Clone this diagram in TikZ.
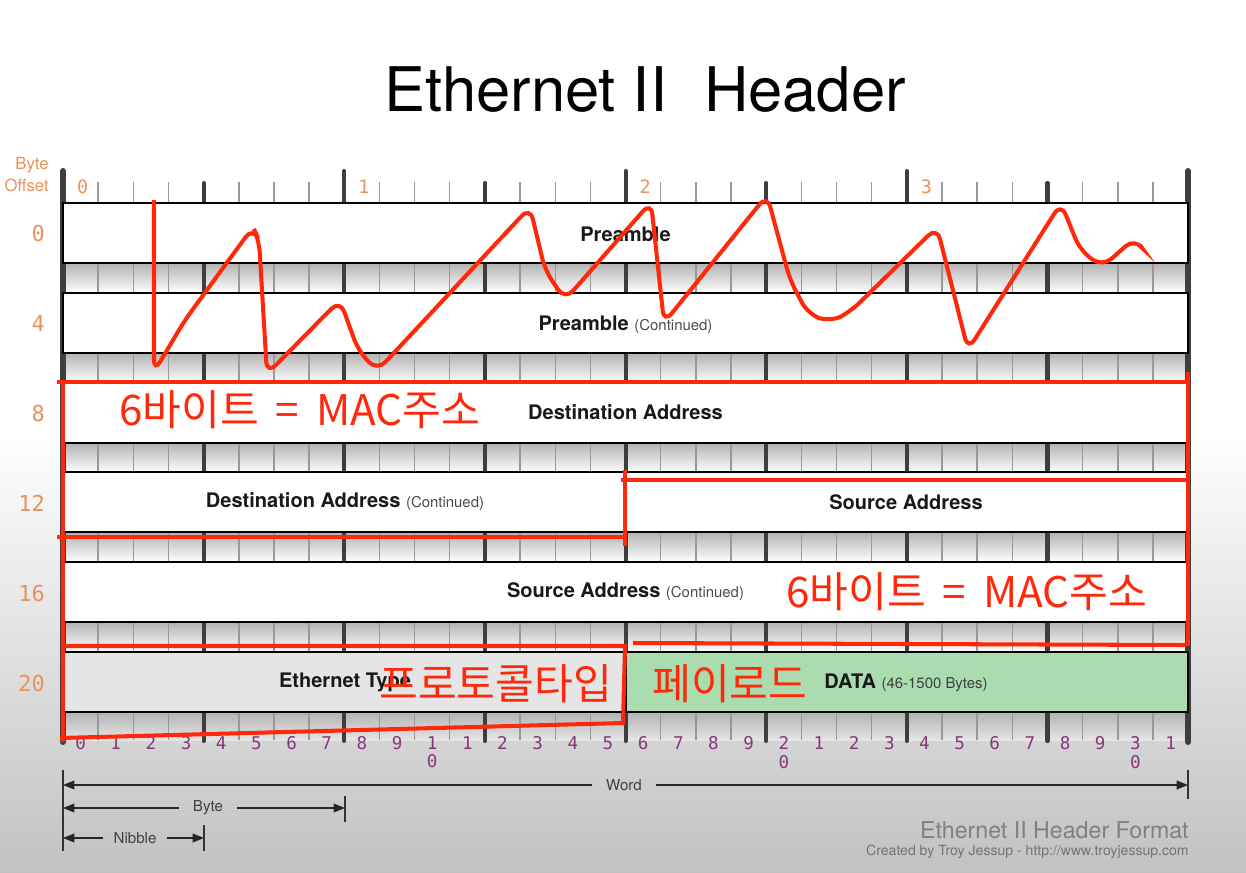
\documentclass[tikz,border=0pt]{standalone}
\usepackage{fontspec}
\setmainfont{TeX Gyre Heros}
\newfontfamily\digitfont{DejaVu Sans Mono}
\newfontfamily\korfont{Noto Sans CJK KR}
\usetikzlibrary{arrows.meta}

\definecolor{offsetorange}{RGB}{234,146,92}
\definecolor{bitpurple}{RGB}{135,55,120}
\definecolor{markred}{RGB}{255,40,10}
\definecolor{datagreen}{RGB}{170,220,176}
\definecolor{typegray}{RGB}{229,229,229}
\definecolor{bardark}{RGB}{62,62,62}

\newcommand\contnote{{\fontsize{8.5}{10}\selectfont\mdseries\color{black!70}(Continued)}}
\newcommand\macnote{6바이트\hspace{0.4em}=\hspace{0.4em}MAC주소}

\begin{document}
\begin{tikzpicture}[x=0.02cm,y=-0.02cm,
  field/.style={draw=black,line width=1.4pt,fill=white},
  fieldtext/.style={font=\fontsize{11.4}{13}\selectfont\bfseries,text=black!90},
  bitline/.style={draw=black!40,line width=0.8pt},
  nibblebar/.style={draw=bardark,line width=2.3pt,line cap=round},
  edgebar/.style={draw=bardark,line width=3.4pt,line cap=round},
  offset/.style={anchor=east,font=\fontsize{12.5}{14}\selectfont\digitfont,text=offsetorange},
  bytenum/.style={anchor=west,font=\fontsize{10.5}{12}\selectfont\digitfont,text=offsetorange},
  bitnum/.style={anchor=north,align=center,inner sep=0pt,
    font=\fontsize{10}{10.6}\selectfont\digitfont,text=bitpurple},
  dimlabel/.style={font=\fontsize{8.6}{10}\selectfont,text=black!75,inner xsep=8pt},
  dimarrow/.style={draw=black!85,line width=0.8pt,-{Triangle[length=6.5pt,width=5pt]}},
  dimtick/.style={draw=black!80,line width=0.8pt},
  redmark/.style={draw=markred,line width=2.3pt},
  redtext/.style={anchor=west,inner sep=0pt,font=\korfont\fontsize{24}{26}\selectfont,text=markred}
]
\useasboundingbox (0,0) rectangle (1246,872);
% background
\fill[white] (0,0) rectangle (1246,872);
\shade[top color=white,bottom color=black!24] (0,430) rectangle (1246,872);

% title
\node[font=\fontsize{35}{40}\selectfont] (title) at (645,90) {Ethernet II\hspace{0.6em}Header};

% byte offset column
\node[anchor=east,font=\fontsize{9.5}{11}\selectfont,text=offsetorange,inner sep=0pt] (bytehead) at (49,165) {Byte};
\node[anchor=east,font=\fontsize{9.5}{11}\selectfont,text=offsetorange,inner sep=0pt] (offsethead) at (49,185) {Offset};
\foreach \o [count=\i from 0] in {0,4,8,12,16,20}
  \node[offset] (off\o) at (51,{234+89.8*\i}) {\o};

% shaded strips between the rows
\foreach \s in {263,353,443,532,622}
  \shade[top color=black!30,bottom color=white] (63,\s) rectangle (1188,{\s+30});
\shade[top color=black!30,bottom color=white!90!black] (63,712) rectangle (1188,740);

% bit, nibble and byte bars
\foreach \b in {1,...,31}
  \draw[bitline] ({63+35.16*\b},182) -- ({63+35.16*\b},740);
\foreach \b in {4,12,20,28}
  \draw[nibblebar] ({63+35.16*\b},183) -- ({63+35.16*\b},741);
\foreach \b in {8,16,24}
  \draw[nibblebar] ({63+35.16*\b},171) -- ({63+35.16*\b},741);
\foreach \b in {0,32}
  \draw[edgebar] ({63+35.16*\b},171) -- ({63+35.16*\b},742);

% byte numbers on top
\foreach \k in {0,1,2,3}
  \node[bytenum] (byte\k) at ({71+281.25*\k},187) {\k};

% fields
\draw[field] (63,203) rectangle (1188,263);
\draw[field] (63,293) rectangle (1188,353);
\draw[field] (63,383) rectangle (1188,443);
\draw[field] (63,472) rectangle (625.5,532);
\draw[field] (625.5,472) rectangle (1188,532);
\draw[field] (63,562) rectangle (1188,622);
\draw[field,fill=typegray] (63,652) rectangle (625.5,712);
\draw[field,fill=datagreen] (625.5,652) rectangle (1188,712);

\node[fieldtext] (pre) at (625.5,234) {Preamble};
\node[fieldtext] (precont) at (625.5,325) {Preamble \contnote};
\node[fieldtext] (dst) at (625.5,412) {Destination Address};
\node[fieldtext] (dstcont) at (345,502) {Destination Address \contnote};
\node[fieldtext] (src) at (906,502) {Source Address};
\node[fieldtext] (srccont) at (625.5,592) {Source Address \contnote};
\node[fieldtext] (ethtype) at (345,682) {Ethernet Type};
\node[fieldtext] (data) at (906,683) {DATA {\fontsize{8.5}{10}\selectfont\mdseries\color{black!75}(46-1500 Bytes)}};

% bit numbers below
\foreach \b in {0,...,31}{
  \pgfmathtruncatemacro\d{mod(\b,10)}
  \pgfmathtruncatemacro\t{\b/10}
  \ifnum\d=0 \ifnum\b>0 \def\lbl{\t\\0}\else\def\lbl{0}\fi\else\def\lbl{\d}\fi
  \node[bitnum] (bit\b) at ({80.6+35.16*\b},736) {\lbl};
}

% word / byte / nibble
\coordinate (wordl) at (63,785);
\coordinate (wordr) at (1188,785);
\coordinate (bytel) at (63,808);
\coordinate (byter) at (345,808);
\coordinate (nibl) at (63,838);
\coordinate (nibr) at (204,838);
\node[dimlabel] (word) at (624,785) {Word};
\node[dimlabel] (bytelbl) at (208,808) {Byte};
\node[dimlabel,inner xsep=6pt] (nibble) at (135,838) {Nibble};
\draw[dimarrow] (word) -- (wordl);
\draw[dimarrow] (word) -- (wordr);
\draw[dimarrow] (bytelbl) -- (bytel);
\draw[dimarrow] (bytelbl) -- (byter);
\draw[dimarrow] (nibble) -- (nibl);
\draw[dimarrow] (nibble) -- (nibr);
\draw[dimtick] (63,770) -- (63,851);
\draw[dimtick] (1188,770) -- (1188,799);
\draw[dimtick] (345,796) -- (345,822);
\draw[dimtick] (204,825) -- (204,851);

% footer
\node[anchor=east,inner sep=0pt,font=\fontsize{13.2}{15}\selectfont,text=black!50] (fmt) at (1189,830) {Ethernet II Header Format};
\node[anchor=east,inner sep=0pt,font=\fontsize{8}{10}\selectfont,text=black!55] (credit) at (1189,852) {Created by Troy Jessup - http://www.troyjessup.com};

% red annotations
\draw[redmark,rounded corners=7pt] (154,200) -- (154,372) -- (185,320) -- (253,227) -- (259,240) -- (267,374)
  -- (340,300) -- (358,350) -- (377,371) -- (530,207) -- (545,270) -- (565,300) -- (651,202) -- (664,323)
  -- (767,195) -- (790,280) -- (808,314) -- (830,322) -- (850,312) -- (937,227) -- (968,350) -- (1061,203)
  -- (1080,250) -- (1102,267) -- (1135,238) -- (1140,245);
\draw[redmark] (57,382) -- (1190,382);
\draw[redmark] (63,380) -- (63,742);
\draw[redmark] (1188,372) -- (1188,646);
\draw[redmark] (57,537) -- (626,537);
\draw[redmark] (625,470) -- (625,546);
\draw[redmark] (621,480) -- (1190,480);
\draw[redmark] (633,643) -- (1186,645);
\draw[redmark] (64,646) -- (625,646) -- (623,723) -- (60,738);

\node[redtext] (mac1) at (119,410) {\macnote};
\node[redtext] (mac2) at (786,592) {\macnote};
\node[redtext] (proto) at (379,684) {프로토콜타입};
\node[redtext] (payload) at (652,684) {페이로드};
\end{tikzpicture}
\end{document}
